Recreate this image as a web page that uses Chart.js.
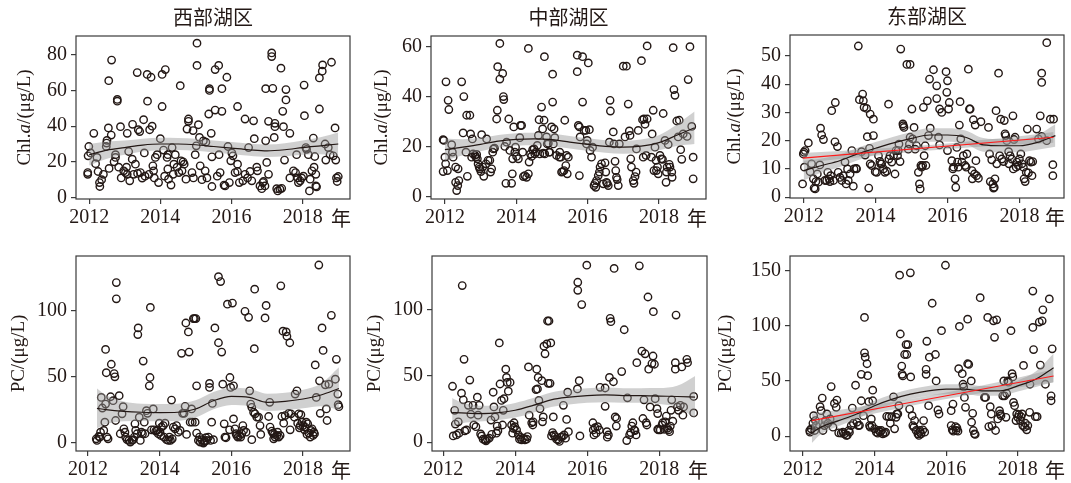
<!DOCTYPE html>
<html>
<head>
<meta charset="utf-8">
<script src="https://cdn.jsdelivr.net/npm/chart.js@4/dist/chart.umd.min.js"></script>
<style>
  html, body { margin: 0; padding: 0; background: #ffffff; }
  #wrap { position: relative; width: 1071px; height: 483px; overflow: hidden; background: #ffffff; }
  #wrap canvas { position: absolute; }
</style>
</head>
<body>
<div id="wrap">
  <canvas id="p1" width="357" height="240" style="left:0px;top:0px"></canvas>
  <canvas id="p2" width="357" height="240" style="left:357px;top:0px"></canvas>
  <canvas id="p3" width="357" height="240" style="left:714px;top:0px"></canvas>
  <canvas id="p4" width="357" height="243" style="left:0px;top:240px"></canvas>
  <canvas id="p5" width="357" height="243" style="left:357px;top:240px"></canvas>
  <canvas id="p6" width="357" height="243" style="left:714px;top:240px"></canvas>
</div>
<script>
// ---- region titles and axis ticks ----
const regionNames = ['西部湖区', '中部湖区', '东部湖区'];
const yearTicks = [2012, 2014, 2016, 2018];
const chlTicksWest = [0, 20, 40, 60, 80];
const chlTicksMid = [0, 20, 40, 60];
const chlTicksEast = [0, 10, 20, 30, 40, 50];
const pcTicksWestMid = [0, 50, 100];
const pcTicksEast = [0, 50, 100, 150];

// ---- observations: [decimal year, concentration] ----
const westChl = [[2011.99,28.6],[2011.97,23.4],[2011.96,14],[2011.96,13],[2012.04,25],[2012.13,36],[2012.18,19],[2012.22,22.5],[2012.25,14.6],[2012.29,8.4],[2012.30,6.2],[2012.35,10],[2012.40,13],[2012.48,28.6],[2012.50,32],[2012.49,30.5],[2012.54,39],[2012.55,65.5],[2012.63,77],[2012.62,35],[2012.56,16.3],[2012.70,20],[2012.74,24],[2012.74,22.5],[2012.79,55],[2012.79,54],[2012.83,17],[2012.88,39.7],[2012.90,11],[2012.97,15],[2013.02,14],[2013.05,17],[2013.07,36],[2013.07,13],[2013.11,25.8],[2013.14,9.4],[2013.21,21.5],[2013.22,41],[2013.25,13],[2013.30,18.7],[2013.35,70],[2013.36,13.5],[2013.38,38],[2013.42,37],[2013.44,14],[2013.49,10.9],[2013.53,43.6],[2013.55,25],[2013.57,12],[2013.63,69],[2013.64,54],[2013.68,13],[2013.70,38],[2013.74,67.4],[2013.77,40],[2013.79,17.8],[2013.81,15],[2013.83,11],[2013.86,22.5],[2013.91,24],[2013.95,8.4],[2014.00,33],[2014.05,69],[2014.05,51],[2014.09,26.6],[2014.12,12],[2014.14,71.7],[2014.19,22.5],[2014.21,24],[2014.21,16],[2014.23,10.3],[2014.30,7],[2014.33,28],[2014.36,13],[2014.38,18.7],[2014.42,24],[2014.47,17],[2014.52,14],[2014.56,62.7],[2014.58,20.6],[2014.61,15],[2014.64,20],[2014.67,18.7],[2014.72,10.3],[2014.75,38.4],[2014.79,44],[2014.79,42.7],[2014.89,14],[2014.92,37.5],[2014.93,11],[2014.98,24],[2015.01,29],[2015.03,86.5],[2015.03,74],[2015.07,40.8],[2015.10,33.7],[2015.12,17.8],[2015.17,10],[2015.21,31.8],[2015.26,15],[2015.28,31],[2015.31,11],[2015.36,46.8],[2015.38,61],[2015.38,60],[2015.43,36],[2015.45,22.8],[2015.45,6.2],[2015.54,49],[2015.54,71.7],[2015.60,12],[2015.64,74],[2015.65,24],[2015.68,14],[2015.73,61],[2015.73,48.3],[2015.79,7],[2015.82,6.5],[2015.87,67.4],[2015.90,28.6],[2015.94,8.4],[2015.98,20.6],[2016.01,25],[2016.04,23.4],[2016.10,14],[2016.17,51],[2016.17,18.7],[2016.17,14.6],[2016.22,8.4],[2016.32,9.4],[2016.38,44],[2016.38,13],[2016.45,11],[2016.48,28],[2016.52,14.6],[2016.57,9.4],[2016.62,43],[2016.64,33],[2016.71,17],[2016.73,15],[2016.80,6.5],[2016.85,5],[2016.88,8.4],[2016.90,9],[2016.94,6.5],[2016.96,31.8],[2016.96,61],[2016.99,19.7],[2017.04,13],[2017.04,42.7],[2017.13,81],[2017.13,79],[2017.16,61.2],[2017.20,33.7],[2017.22,39.7],[2017.22,41.6],[2017.27,5],[2017.30,3.7],[2017.36,4.7],[2017.41,5.2],[2017.39,72.5],[2017.44,48.3],[2017.46,39.7],[2017.49,21],[2017.53,60.5],[2017.53,54.7],[2017.64,36],[2017.64,11],[2017.74,15],[2017.80,14],[2017.83,24],[2017.86,11],[2017.88,8.4],[2017.93,9.4],[2017.97,11],[2018.02,12],[2018.04,63],[2018.05,45.9],[2018.09,28],[2018.11,27],[2018.16,24],[2018.19,3.7],[2018.21,10.3],[2018.26,15],[2018.30,33.3],[2018.32,17],[2018.34,23],[2018.37,13],[2018.37,6.5],[2018.39,6],[2018.47,67],[2018.47,49.6],[2018.55,70.8],[2018.56,74.3],[2018.63,30],[2018.65,21],[2018.72,28],[2018.77,24],[2018.81,75.8],[2018.86,23.4],[2018.91,39],[2018.93,21],[2018.95,11],[2018.97,9],[2019.00,11.8]];

const midChl = [[2011.95,22.7],[2011.97,22.4],[2011.95,9.9],[2012.00,15.7],[2012.02,13],[2012.03,45.9],[2012.07,10.3],[2012.09,38.5],[2012.11,34.8],[2012.19,20.7],[2012.21,17.7],[2012.23,15.7],[2012.30,11.7],[2012.30,5.6],[2012.33,2.3],[2012.36,4.3],[2012.37,11],[2012.39,6.3],[2012.47,45.9],[2012.51,25.4],[2012.53,40],[2012.59,17.7],[2012.61,32.5],[2012.63,8],[2012.70,32.5],[2012.72,25],[2012.75,15.7],[2012.77,23],[2012.79,17],[2012.84,16.5],[2012.87,15.7],[2012.89,16.8],[2012.91,15],[2012.93,13],[2012.96,11.7],[2012.98,11],[2013.01,9.9],[2013.03,24.7],[2013.06,11.7],[2013.09,8],[2013.15,13],[2013.17,23],[2013.21,14.4],[2013.26,14.4],[2013.28,9.7],[2013.31,11],[2013.34,17.7],[2013.36,19],[2013.39,19.3],[2013.45,31],[2013.47,34.5],[2013.48,52],[2013.54,47],[2013.54,61.3],[2013.62,49.3],[2013.64,40],[2013.65,38.8],[2013.68,20],[2013.71,5.2],[2013.73,21.7],[2013.79,31],[2013.82,18.4],[2013.87,5.2],[2013.89,9],[2013.90,15],[2013.93,27.8],[2013.96,17.7],[2013.98,19.7],[2014.01,16],[2014.06,15],[2014.10,23.5],[2014.12,28.4],[2014.15,28.4],[2014.18,17.7],[2014.20,7.9],[2014.24,8.3],[2014.29,7.6],[2014.34,9],[2014.34,59.3],[2014.36,13.7],[2014.40,17],[2014.43,16],[2014.46,18.7],[2014.50,19],[2014.52,17],[2014.55,17.7],[2014.59,20.4],[2014.62,24.4],[2014.64,30.7],[2014.66,17],[2014.71,35.8],[2014.74,27],[2014.76,17.3],[2014.78,30.5],[2014.79,56],[2014.80,17],[2014.85,23.8],[2014.87,21],[2014.90,21.3],[2014.92,17.7],[2014.94,17.7],[2014.99,27.8],[2015.02,37.8],[2015.02,49],[2015.04,21],[2015.06,27],[2015.08,23.5],[2015.13,16.4],[2015.21,15.7],[2015.22,17.7],[2015.25,15.7],[2015.27,9.7],[2015.30,9.9],[2015.34,10.3],[2015.36,30.5],[2015.39,12.3],[2015.41,16.4],[2015.43,9],[2015.46,15.7],[2015.71,56.6],[2015.71,50],[2015.74,28.4],[2015.77,27.8],[2015.77,8.3],[2015.79,23.8],[2015.86,37.8],[2015.86,56],[2015.90,26.4],[2015.95,26.4],[2015.97,21],[2015.99,22.4],[2016.02,53.5],[2016.05,26.7],[2016.07,18.4],[2016.11,15.7],[2016.14,19.7],[2016.18,4.3],[2016.21,5.2],[2016.23,3.6],[2016.25,6.3],[2016.30,8.3],[2016.33,9.7],[2016.35,11.7],[2016.39,13],[2016.44,5],[2016.49,13.4],[2016.51,9.7],[2016.53,5.6],[2016.55,5.2],[2016.58,4.3],[2016.61,21.7],[2016.63,38.5],[2016.64,34.2],[2016.72,25.8],[2016.74,21],[2016.77,14],[2016.79,10.3],[2016.81,7.6],[2016.83,6.7],[2016.86,4.3],[2016.89,21],[2017.00,52.2],[2017.05,23.8],[2017.09,52.2],[2017.14,37],[2017.17,26.2],[2017.19,24.4],[2017.21,15],[2017.23,11.7],[2017.28,6.3],[2017.30,5.2],[2017.33,7.9],[2017.36,9.7],[2017.37,19],[2017.42,26.4],[2017.51,54.4],[2017.54,30.7],[2017.56,15.7],[2017.58,31],[2017.61,28.9],[2017.64,16.4],[2017.67,60.3],[2017.67,31],[2017.79,15.7],[2017.81,25],[2017.84,34.5],[2017.86,10.3],[2017.89,19.7],[2017.92,14.4],[2017.93,10.3],[2017.96,11.7],[2017.98,9],[2018.03,16.4],[2018.07,15],[2018.10,14.8],[2018.12,33.2],[2018.17,22.4],[2018.20,5.6],[2018.21,9.7],[2018.23,11.7],[2018.26,20.8],[2018.29,12.8],[2018.31,11.7],[2018.36,9.7],[2018.37,7.6],[2018.40,59.6],[2018.42,42.8],[2018.45,40.5],[2018.50,30.2],[2018.54,23.8],[2018.57,30.5],[2018.61,18.7],[2018.64,14.8],[2018.68,25],[2018.79,24],[2018.82,46.8],[2018.87,60],[2018.92,28],[2018.96,15.7],[2018.96,7]];

const eastChl = [[2011.97,4.7],[2011.99,15.3],[2012.01,15.9],[2012.04,16.5],[2012.02,10.6],[2012.13,19.2],[2012.18,9],[2012.22,11.8],[2012.27,6.5],[2012.29,3.2],[2012.32,2.9],[2012.34,5.5],[2012.38,8.2],[2012.41,5.3],[2012.45,11.4],[2012.47,24.4],[2012.50,22],[2012.55,20.4],[2012.59,5.9],[2012.64,5.9],[2012.67,8.8],[2012.71,6.5],[2012.73,5.5],[2012.75,7.6],[2012.78,30.6],[2012.83,5.9],[2012.87,19.6],[2012.88,33.5],[2012.94,17.9],[2012.96,8.8],[2013.01,7],[2013.06,5.9],[2013.10,7.6],[2013.15,12.4],[2013.18,4.7],[2013.22,10],[2013.24,5.9],[2013.29,8.2],[2013.34,16.5],[2013.38,3.9],[2013.40,10],[2013.46,10.2],[2013.47,10],[2013.52,53.5],[2013.55,34.5],[2013.61,16.1],[2013.64,36.5],[2013.66,34.1],[2013.68,31.8],[2013.71,14.9],[2013.75,31.4],[2013.77,21.4],[2013.81,3.2],[2013.83,17.3],[2013.85,11.8],[2013.85,29.4],[2013.89,11.2],[2013.94,27.6],[2013.94,21.8],[2013.99,9],[2014.03,8.8],[2014.08,14.7],[2014.12,12.7],[2014.14,11.8],[2014.17,11.8],[2014.22,10],[2014.26,8.8],[2014.31,9.2],[2014.36,32.9],[2014.37,13.5],[2014.40,14.7],[2014.45,12.4],[2014.50,14.7],[2014.54,8.2],[2014.57,16.5],[2014.61,14.7],[2014.63,16.5],[2014.65,18.8],[2014.68,12.6],[2014.70,52.4],[2014.76,25.9],[2014.77,25.3],[2014.79,24.7],[2014.87,47],[2014.91,17],[2014.94,18.8],[2014.96,21.2],[2014.96,47],[2015.01,31.2],[2015.03,20.6],[2015.07,24.7],[2015.10,17],[2015.14,18.2],[2015.19,8.8],[2015.22,4.7],[2015.24,2.9],[2015.26,11.2],[2015.28,10.6],[2015.31,11.2],[2015.33,31.8],[2015.35,14.7],[2015.38,18.2],[2015.40,11.2],[2015.44,34.1],[2015.47,21.8],[2015.50,41.8],[2015.52,24.4],[2015.61,45.1],[2015.70,39.4],[2015.70,34.9],[2015.75,21.2],[2015.78,18.5],[2015.78,31.2],[2015.84,30],[2015.96,44.4],[2015.98,37.1],[2016.00,41.2],[2016.00,16.5],[2016.03,31.2],[2016.05,33.5],[2016.12,12.9],[2016.15,10],[2016.17,10.6],[2016.21,6.5],[2016.23,3.5],[2016.26,17.6],[2016.28,12.4],[2016.30,10.6],[2016.33,25.5],[2016.35,33.8],[2016.37,20.6],[2016.40,12.4],[2016.44,14.7],[2016.49,11.2],[2016.52,10.6],[2016.54,15.3],[2016.58,45.3],[2016.61,31.2],[2016.63,31.2],[2016.68,9.4],[2016.69,6.5],[2016.72,27.4],[2016.75,8.2],[2016.77,25.5],[2016.79,12.9],[2016.81,7.6],[2016.86,6.7],[2016.93,26.7],[2017.14,24.7],[2017.17,15.3],[2017.19,5.5],[2017.23,13.2],[2017.26,4.7],[2017.28,3.2],[2017.30,3.5],[2017.32,6.5],[2017.35,30.6],[2017.37,11.8],[2017.42,43.9],[2017.45,14.7],[2017.48,27.6],[2017.51,13.5],[2017.56,12.6],[2017.58,27.1],[2017.60,22.4],[2017.62,21.8],[2017.65,20],[2017.70,16.1],[2017.71,11.8],[2017.74,14.7],[2017.79,13.5],[2017.82,28.8],[2017.83,10],[2017.85,20.4],[2017.88,21.2],[2017.91,10.6],[2017.93,12.4],[2017.97,11.2],[2018.00,13.5],[2018.04,15.3],[2018.07,11.8],[2018.11,10.6],[2018.13,6.5],[2018.16,5.5],[2018.19,8.8],[2018.22,24.1],[2018.25,8.6],[2018.28,12.9],[2018.32,12.4],[2018.35,7.6],[2018.37,12.6],[2018.48,24.1],[2018.53,20.6],[2018.58,28.8],[2018.62,43.9],[2018.62,40.6],[2018.62,21.5],[2018.76,54.7],[2018.76,20],[2018.86,27.6],[2018.95,27.6],[2018.93,11.5],[2018.93,7.6]];

const westPC = [[2012.23,3.2],[2012.25,2],[2012.30,5],[2012.33,4.5],[2012.35,8.2],[2012.37,34.4],[2012.40,26.4],[2012.44,9.5],[2012.47,15.7],[2012.49,70.6],[2012.49,29.4],[2012.51,53],[2012.53,4.5],[2012.56,3.2],[2012.63,34.9],[2012.65,59.4],[2012.70,31.9],[2012.73,52.4],[2012.75,49.9],[2012.77,17],[2012.79,121],[2012.79,108.7],[2012.87,35.7],[2012.90,7],[2012.95,22],[2012.98,27.4],[2013.00,10.7],[2013.03,8.2],[2013.05,4.5],[2013.09,2.5],[2013.14,2],[2013.18,0.7],[2013.23,2],[2013.26,2.5],[2013.29,4.5],[2013.31,14.5],[2013.33,9.5],[2013.37,7],[2013.39,81.8],[2013.40,86.8],[2013.43,19.5],[2013.46,2],[2013.49,8.2],[2013.52,7],[2013.54,61.8],[2013.57,15.7],[2013.59,7],[2013.63,24.4],[2013.66,22.4],[2013.71,43.1],[2013.73,49.4],[2013.74,102.2],[2013.77,10],[2013.82,25.7],[2013.84,10],[2013.89,9],[2013.93,9.5],[2013.96,7],[2013.99,15],[2014.01,8.2],[2014.03,5.7],[2014.05,12],[2014.10,13.2],[2014.12,4.5],[2014.15,15],[2014.19,2.5],[2014.24,2],[2014.27,4.5],[2014.30,2],[2014.33,32.4],[2014.35,3.2],[2014.38,12],[2014.43,10.7],[2014.47,13.2],[2014.52,8.2],[2014.57,9.5],[2014.61,67.6],[2014.64,22.4],[2014.68,22.4],[2014.71,27.7],[2014.73,90.5],[2014.75,6.5],[2014.80,83.8],[2014.82,68.6],[2014.85,15.7],[2014.89,25.7],[2014.91,15.7],[2014.94,93.8],[2014.97,93.8],[2015.01,93.8],[2014.99,15.7],[2015.03,43.1],[2015.03,7.5],[2015.08,2],[2015.11,4.5],[2015.13,0.7],[2015.17,2.5],[2015.22,0],[2015.24,1],[2015.26,1.5],[2015.29,4],[2015.31,2],[2015.36,4.5],[2015.39,44.9],[2015.39,41.9],[2015.42,2],[2015.45,15.7],[2015.47,29.9],[2015.50,2.5],[2015.54,86.8],[2015.64,125.4],[2015.64,75.6],[2015.70,121.7],[2015.73,68.6],[2015.76,44.4],[2015.80,14.5],[2015.82,4.5],[2015.85,4],[2015.89,104.7],[2015.95,10],[2015.96,49.4],[2015.98,41.9],[2016.03,105.5],[2016.06,18.2],[2016.06,43.1],[2016.10,10.7],[2016.13,7],[2016.15,5.7],[2016.18,4.5],[2016.23,5.7],[2016.26,4.5],[2016.29,7],[2016.32,13.2],[2016.34,9.5],[2016.38,99.3],[2016.41,8.2],[2016.48,94.8],[2016.51,39.4],[2016.54,29.4],[2016.57,2.5],[2016.57,26.9],[2016.62,23.2],[2016.64,71.1],[2016.65,116],[2016.66,22],[2016.71,19.5],[2016.76,19.5],[2016.80,13.2],[2016.82,6.5],[2016.94,94.3],[2016.97,103.7],[2017.04,20],[2017.07,30.7],[2017.08,12],[2017.13,9],[2017.16,7.5],[2017.18,3.2],[2017.20,6.5],[2017.22,4.5],[2017.27,5.7],[2017.29,8.2],[2017.32,4.5],[2017.36,5.7],[2017.38,118.5],[2017.41,20],[2017.44,84.3],[2017.46,15],[2017.50,20.7],[2017.53,83.8],[2017.55,80.5],[2017.60,22.4],[2017.63,75.6],[2017.64,10],[2017.66,22],[2017.76,19.5],[2017.78,36.9],[2017.83,39.4],[2017.85,15],[2017.88,22],[2017.90,11.5],[2017.92,13.2],[2017.94,21.4],[2017.97,15.7],[2018.00,13.2],[2018.04,10],[2018.06,12],[2018.09,15.7],[2018.11,6.5],[2018.13,14.5],[2018.16,7.5],[2018.20,4.5],[2018.22,9.5],[2018.25,10.7],[2018.28,5.7],[2018.30,8.2],[2018.32,7],[2018.34,58.9],[2018.37,34.4],[2018.44,134.2],[2018.46,46.9],[2018.48,22.4],[2018.53,86.8],[2018.56,69.8],[2018.62,43.9],[2018.65,25.7],[2018.67,17],[2018.72,44.4],[2018.79,96.3],[2018.90,48.1],[2018.93,63.1],[2018.97,36.9],[2018.98,28.9],[2019.00,27.4]];

const midPC = [[2012.26,42.1],[2012.28,4.7],[2012.32,24],[2012.34,13.6],[2012.37,5.4],[2012.42,15.3],[2012.44,6.7],[2012.51,36.9],[2012.53,118],[2012.56,31.9],[2012.58,62.4],[2012.60,8.4],[2012.65,9.2],[2012.70,27.7],[2012.74,46.8],[2012.77,21],[2012.83,27.7],[2012.85,12.9],[2012.91,11.6],[2012.95,33.9],[2012.97,20.3],[2013.00,27.7],[2013.04,6.2],[2013.07,4.7],[2013.11,2.2],[2013.16,1.7],[2013.19,1],[2013.23,2.2],[2013.28,3],[2013.33,16.6],[2013.35,5.9],[2013.39,37.6],[2013.41,26.5],[2013.44,19],[2013.48,6.7],[2013.50,12.1],[2013.52,8.4],[2013.56,74.8],[2013.58,43.8],[2013.62,31.4],[2013.65,12.9],[2013.67,24],[2013.69,32.7],[2013.74,55],[2013.76,48.8],[2013.78,45],[2013.81,38.4],[2013.86,45],[2013.90,12.9],[2013.93,6.7],[2013.95,10.4],[2013.97,14.6],[2013.99,11.6],[2014.04,9.2],[2014.09,5.4],[2014.12,2.2],[2014.15,3.5],[2014.18,1.7],[2014.23,3],[2014.27,1.7],[2014.32,2.2],[2014.34,4.2],[2014.37,56.7],[2014.39,20.3],[2014.46,14.6],[2014.49,12.9],[2014.50,15.3],[2014.58,39.6],[2014.60,55],[2014.62,40.1],[2014.64,48.8],[2014.66,31.4],[2014.69,25.2],[2014.74,46.3],[2014.76,15.3],[2014.78,19],[2014.80,72.3],[2014.83,66.6],[2014.88,74],[2014.90,91.3],[2014.92,44.3],[2014.94,91.3],[2014.97,44.3],[2014.99,74.8],[2015.01,4.7],[2015.04,7.2],[2015.06,19],[2015.08,5.4],[2015.11,4.2],[2015.15,2.2],[2015.20,1.7],[2015.23,0.5],[2015.27,3.7],[2015.31,4.2],[2015.34,27.7],[2015.36,5.4],[2015.40,3],[2015.43,17.1],[2015.46,37.6],[2015.48,7.9],[2015.73,40.1],[2015.74,120.5],[2015.74,114.4],[2015.78,46.3],[2015.80,4.7],[2015.85,103.7],[2015.99,133.4],[2016.16,14.6],[2016.17,9.2],[2016.19,5.4],[2016.22,10.9],[2016.25,6.7],[2016.29,11.6],[2016.34,9.2],[2016.36,41.3],[2016.50,40.8],[2016.50,27],[2016.55,7.9],[2016.56,3.7],[2016.59,5.4],[2016.62,48.8],[2016.64,93.3],[2016.66,90.8],[2016.73,45.5],[2016.75,130.9],[2016.78,19],[2016.81,12.1],[2016.82,17.8],[2016.96,53.2],[2017.03,84.7],[2017.10,1.2],[2017.12,33.4],[2017.18,5.4],[2017.21,7.2],[2017.24,12.1],[2017.27,14.6],[2017.31,9.2],[2017.33,8.7],[2017.36,5.4],[2017.38,59.9],[2017.45,132.9],[2017.52,68.6],[2017.55,17.8],[2017.58,31.9],[2017.61,66.6],[2017.64,14.6],[2017.66,12.9],[2017.69,109.4],[2017.71,55],[2017.75,26.5],[2017.80,59.2],[2017.83,64.9],[2017.84,98.3],[2017.87,58.7],[2017.89,32.7],[2017.94,25.2],[2017.96,21.5],[2017.96,9.7],[2017.98,9.2],[2018.03,9.2],[2018.08,12.9],[2018.10,14.6],[2018.14,9.7],[2018.17,15.3],[2018.20,19.6],[2018.23,10.4],[2018.26,9.2],[2018.29,7.9],[2018.31,12.1],[2018.33,24],[2018.35,31.9],[2018.38,15.8],[2018.45,59.9],[2018.45,55],[2018.47,95.8],[2018.51,26.5],[2018.54,24],[2018.59,27.7],[2018.63,56.7],[2018.66,20.3],[2018.68,26.5],[2018.77,62.4],[2018.79,59.9],[2018.96,34.4],[2018.96,22]];

const eastPC = [[2012.19,5.1],[2012.20,3.6],[2012.23,6.6],[2012.28,11.7],[2012.30,18.6],[2012.33,5.1],[2012.35,14.1],[2012.37,9.6],[2012.48,26.7],[2012.51,23.1],[2012.54,34.5],[2012.56,5.1],[2012.60,9.6],[2012.63,14.1],[2012.67,20.1],[2012.70,11.7],[2012.76,15.6],[2012.79,45],[2012.84,8.1],[2012.88,29.7],[2012.93,26.1],[2012.95,32.7],[2013.00,3],[2013.07,2.7],[2013.12,3.6],[2013.16,2.1],[2013.21,0.6],[2013.24,0.8],[2013.28,5.1],[2013.30,3.6],[2013.35,9.6],[2013.38,25.5],[2013.41,11.7],[2013.47,46.2],[2013.51,12.6],[2013.55,9.6],[2013.58,9.8],[2013.63,56.1],[2013.63,32.1],[2013.69,18.6],[2013.72,107.7],[2013.72,75.6],[2013.74,71.7],[2013.79,65.7],[2013.81,54.9],[2013.84,31.2],[2013.86,9.6],[2013.88,8.1],[2013.91,15.6],[2013.93,9.6],[2013.95,41.7],[2013.95,32.1],[2014.00,6.6],[2014.05,3.6],[2014.09,2.7],[2014.12,5.1],[2014.16,3.6],[2014.19,5.1],[2014.23,2.1],[2014.28,2.7],[2014.31,3.6],[2014.34,18],[2014.40,17.7],[2014.44,11.7],[2014.48,17.7],[2014.53,35.7],[2014.56,6.6],[2014.60,17.1],[2014.62,20.1],[2014.65,20.1],[2014.68,27.6],[2014.70,146.1],[2014.72,92.7],[2014.76,63.6],[2014.77,56.1],[2014.79,54.6],[2014.84,74.1],[2014.88,83.1],[2014.90,74.1],[2014.93,83.1],[2014.98,24.6],[2015.00,148.2],[2015.01,53.7],[2015.05,18.6],[2015.07,9.6],[2015.10,8.1],[2015.12,14.1],[2015.16,5.1],[2015.21,2.1],[2015.24,0.6],[2015.26,3.6],[2015.27,5.1],[2015.30,2.1],[2015.35,5.7],[2015.37,14.1],[2015.40,3.6],[2015.44,60.6],[2015.44,56.1],[2015.46,86.1],[2015.51,27.6],[2015.53,71.7],[2015.61,120.6],[2015.70,74.1],[2015.72,50.1],[2015.77,23.7],[2015.80,20.1],[2015.87,95.7],[2015.98,155.1],[2016.14,23.1],[2016.14,9.6],[2016.17,5.7],[2016.19,29.1],[2016.20,4.5],[2016.26,8.7],[2016.28,5.1],[2016.30,7.5],[2016.33,4.5],[2016.35,61.2],[2016.37,99.6],[2016.45,56.7],[2016.47,47.1],[2016.49,44.7],[2016.51,35.1],[2016.54,26.1],[2016.60,106.2],[2016.60,65.7],[2016.63,65.1],[2016.70,50.1],[2016.71,12.6],[2016.74,20.7],[2016.76,5.1],[2016.79,2.1],[2016.81,1.5],[2016.95,125.7],[2017.07,35.1],[2017.10,35.1],[2017.16,107.7],[2017.19,8.7],[2017.23,26.7],[2017.26,20.1],[2017.28,9.6],[2017.32,104.7],[2017.35,89.7],[2017.38,5.1],[2017.41,105.6],[2017.44,15.6],[2017.49,23.1],[2017.51,20.1],[2017.53,18.6],[2017.58,36.6],[2017.61,50.1],[2017.63,36.6],[2017.67,17.1],[2017.69,38.7],[2017.72,50.1],[2017.74,49],[2017.81,95.7],[2017.84,56.7],[2017.86,53.7],[2017.88,30.6],[2017.91,27.6],[2017.95,14.1],[2017.97,20.1],[2018.00,17.1],[2018.03,19.5],[2018.07,14.1],[2018.09,17.7],[2018.12,20.1],[2018.14,9.6],[2018.16,64.2],[2018.19,8.1],[2018.21,11.7],[2018.25,5.7],[2018.28,9.6],[2018.33,21.6],[2018.34,47.1],[2018.42,131.7],[2018.42,98.7],[2018.44,78.6],[2018.49,17.7],[2018.54,17.7],[2018.60,103.5],[2018.63,64.5],[2018.68,104.7],[2018.70,114.6],[2018.77,47.1],[2018.88,124.5],[2018.93,36.6],[2018.93,32.1],[2018.96,79.2]];

// ---- smoothed trends (loess) with 95% bands ----
const loessYearsChl = [2012,2012.5,2013,2013.5,2014,2014.5,2015,2015.5,2016,2016.5,2017,2017.5,2018,2018.5,2019];
const loessYearsPC = [2012.25,2012.5,2013,2013.5,2014,2014.5,2015,2015.5,2016,2016.5,2017,2017.5,2018,2018.5,2019];

const westChlFit = [24,26.6,28,29.4,30,30,29.6,28.6,27.7,26.8,26.2,26.8,28,29,30];
const westChlHi  = [30,31.4,32,33,33.5,33.4,33,32,31.1,30.2,29.7,30.4,32,33.8,36.5];
const westChlLo  = [18,21.8,24,25.8,26.5,26.6,26.2,25.2,24.3,23.4,22.7,23.2,24,24.2,23.5];

const midChlFit = [18.7,19.7,20.8,22.1,22.8,23,22.7,21.7,20.8,20,19.7,20.1,21.5,24.5,27.5];
const midChlHi  = [23.2,22.9,23.5,24.6,25.3,25.5,25.2,24.2,23.3,22.5,22.3,22.8,24.5,28.8,34];
const midChlLo  = [14.2,16.5,18.1,19.6,20.3,20.5,20.2,19.2,18.3,17.5,17.1,17.4,18.5,20.2,21];

const eastChlFit = [9.4,11.2,12.9,15.3,17.3,19.2,20.8,22,22,21.2,18.5,18.2,18.2,19.4,21.8];
const eastChlHi  = [12.9,13.7,15.1,17.5,19.5,21.4,23.1,24.4,24.4,23.6,20.9,20.5,20.5,22,25.8];
const eastChlLo  = [5.9,8.7,10.7,13.1,15.1,17,18.5,19.6,19.6,18.8,16.1,15.9,15.9,16.8,17.8];

const westPCFit = [26.2,25.2,23.9,23.2,22.9,23.2,25.7,31.9,35.2,34.4,30.7,31.4,33.2,36.2,41.1];
const westPCHi  = [41.2,36.2,31.4,29.7,29.4,29.7,32.2,38.4,41.7,40.9,37.2,37.9,40.2,44.7,57.1];
const westPCLo  = [11.2,14.2,16.4,16.7,16.4,16.7,19.2,25.4,28.7,27.9,24.2,24.9,26.2,27.7,25.1];

const midPCFit = [22.3,22,21.5,22,24,27.7,31.9,33.9,35.1,35.6,35.1,35.1,34.7,34.4,33.9];
const midPCHi  = [33.3,30,27.5,27.5,29.5,33.2,37.4,39.4,40.6,41.1,40.6,40.6,40.7,42.4,49.9];
const midPCLo  = [11.3,14,15.5,16.5,18.5,22.2,26.4,28.4,29.6,30.1,29.6,29.6,28.7,26.4,17.9];

const eastPCFit = [2.7,8.1,14.1,20.1,27.6,33.6,38.1,41.1,42.6,42.6,41.1,41.1,45.6,51.6,62.1];
const eastPCHi  = [11.7,14.6,19.1,24.6,32.1,38.1,42.6,45.6,47.1,47.1,45.6,45.6,50.6,58.6,75.1];
const eastPCLo  = [-6.3,1.6,9.1,15.6,23.1,29.1,33.6,36.6,38.1,38.1,36.6,36.6,40.6,44.6,49.1];

// ---- linear trends (east region) with 95% bands ----
const eastChlLineYears = [2011.97, 2018.95];
const eastChlLine = [13.8, 21.2];
const eastChlLineBandYears = [2011.97,2013,2014,2015,2016,2017,2018,2018.95];
const eastChlLineHi = [15.6,16.3,17.1,18,19,20.3,21.6,23.1];
const eastChlLineLo = [12,13.5,14.7,16,17,17.9,18.6,19.3];

const eastPCLineYears = [2012.25, 2019];
const eastPCLine = [14.1, 54.6];
const eastPCLineBandYears = [2012.25,2013,2014,2015,2016,2017,2018,2019];
const eastPCLineHi = [20.6,23.8,28.6,33.8,39.6,46,53,60.6];
const eastPCLineLo = [7.6,13.4,20.6,27.4,33.6,39.2,44.2,48.6];

// ---- drawing ----
const INK = '#231815';
const SERIF = "'Liberation Serif', 'Times New Roman', 'DejaVu Serif', serif";
const CJK = "'Noto Sans CJK SC', 'Noto Sans CJK JP', sans-serif";
const BAND = 'rgba(150,150,150,0.45)';

const pairs = arr => arr.map(p => ({ x: p[0], y: p[1] }));
const zip = (xs, ys) => xs.map((x, i) => ({ x, y: ys[i] }));

const chlTitle = [{ t: 'Chl.', it: false }, { t: 'a', it: true }, { t: '/(μg/L)', it: false }];
const pcTitle = [{ t: 'PC/(μg/L)', it: false }];

const panels = [
  { id: 'p1', w: 357, h: 240, area: { l: 76, r: 350, t: 36, b: 199 }, x: [2011.63, 2019.33], y: [-0.8, 90.5], yTicks: chlTicksWest,
    title: regionNames[0], yTitle: chlTitle, yTitleX: 25, pts: westChl,
    loess: [loessYearsChl, westChlFit, westChlLo, westChlHi] },
  { id: 'p2', w: 357, h: 240, area: { l: 74, r: 349, t: 36, b: 199 }, x: [2011.61, 2019.32], y: [-1.1, 64.3], yTicks: chlTicksMid,
    title: regionNames[1], yTitle: chlTitle, yTitleX: 25, pts: midChl,
    loess: [loessYearsChl, midChlFit, midChlLo, midChlHi] },
  { id: 'p3', w: 357, h: 240, area: { l: 76, r: 350, t: 35, b: 198 }, x: [2011.62, 2019.24], y: [-0.3, 57.4], yTicks: chlTicksEast,
    title: regionNames[2], yTitle: chlTitle, yTitleX: 21, pts: eastChl,
    loess: [loessYearsChl, eastChlFit, eastChlLo, eastChlHi],
    linear: [eastChlLineYears, eastChlLine, eastChlLineBandYears, eastChlLineLo, eastChlLineHi] },
  { id: 'p4', w: 357, h: 243, area: { l: 76, r: 350, t: 14, b: 211 }, x: [2011.665, 2019.31], y: [-6, 141], yTicks: pcTicksWestMid,
    title: null, yTitle: pcTitle, yTitleX: 19, pts: westPC,
    loess: [loessYearsPC, westPCFit, westPCLo, westPCHi] },
  { id: 'p5', w: 357, h: 243, area: { l: 75, r: 350, t: 14, b: 211 }, x: [2011.69, 2019.33], y: [-6.7, 140.3], yTicks: pcTicksWestMid,
    title: null, yTitle: pcTitle, yTitleX: 18, pts: midPC,
    loess: [loessYearsPC, midPCFit, midPCLo, midPCHi] },
  { id: 'p6', w: 357, h: 243, area: { l: 76, r: 350, t: 14, b: 211 }, x: [2011.64, 2019.29], y: [-13.5, 163.5], yTicks: pcTicksEast,
    title: null, yTitle: pcTitle, yTitleX: 12, pts: eastPC,
    loess: [loessYearsPC, eastPCFit, eastPCLo, eastPCHi],
    linear: [eastPCLineYears, eastPCLine, eastPCLineBandYears, eastPCLineLo, eastPCLineHi] }
];

// frame, panel heading, rotated axis title and the 年 unit after the year ticks
const decorations = {
  id: 'decorations',
  afterDraw(chart, args, opts) {
    const { ctx, chartArea: a } = chart;
    ctx.save();
    ctx.strokeStyle = '#3a3a3a';
    ctx.lineWidth = 1.2;
    ctx.strokeRect(a.left, a.top, a.right - a.left, a.bottom - a.top);

    ctx.fillStyle = INK;
    if (opts.title) {
      ctx.font = '20px ' + CJK;
      ctx.textAlign = 'center';
      ctx.textBaseline = 'middle';
      ctx.fillText(opts.title, (a.left + a.right) / 2, a.top - 19);
    }

    // unit label for the time axis
    ctx.font = '20px ' + CJK;
    ctx.textAlign = 'center';
    ctx.textBaseline = 'middle';
    ctx.fillText('年', a.right - 9, a.bottom + 19);

    // rotated y title with italic part
    const size = 19;
    const fontOf = p => (p.it ? 'italic ' : '') + size + 'px ' + SERIF;
    let total = 0;
    const widths = opts.yTitle.map(p => { ctx.font = fontOf(p); const w = ctx.measureText(p.t).width; total += w; return w; });
    ctx.translate(opts.yTitleX, (a.top + a.bottom) / 2);
    ctx.rotate(-Math.PI / 2);
    ctx.textAlign = 'left';
    ctx.textBaseline = 'middle';
    let x = -total / 2;
    opts.yTitle.forEach((p, i) => { ctx.font = fontOf(p); ctx.fillText(p.t, x, 0); x += widths[i]; });
    ctx.restore();
  }
};

function lineSet(data, color, width, order) {
  return { data, showLine: true, borderColor: color, borderWidth: width, pointRadius: 0, pointHoverRadius: 0,
           fill: false, cubicInterpolationMode: 'monotone', order };
}
function bandSet(data, fillTarget, order) {
  return { data, showLine: true, borderWidth: 0, borderColor: 'rgba(0,0,0,0)', pointRadius: 0, pointHoverRadius: 0,
           backgroundColor: BAND, fill: fillTarget, cubicInterpolationMode: 'monotone', order };
}

panels.forEach(p => {
  const [fy, fit, lo, hi] = p.loess;
  const datasets = [
    { data: pairs(p.pts), showLine: false, pointRadius: 3.7, pointHoverRadius: 3.7, pointBorderWidth: 1.4,
      pointBorderColor: INK, pointBackgroundColor: 'rgba(0,0,0,0)', order: 5 },
    bandSet(zip(fy, hi), '+1', 3),
    bandSet(zip(fy, lo), false, 3),
    lineSet(zip(fy, fit), INK, 1.2, 1)
  ];
  if (p.linear) {
    const [ly, lv, by, blo, bhi] = p.linear;
    datasets.push(bandSet(zip(by, bhi), '+1', 3));
    datasets.push(bandSet(zip(by, blo), false, 3));
    datasets.push(lineSet(zip(ly, lv), '#ff1a1a', 1.2, 0));
  }

  new Chart(document.getElementById(p.id), {
    type: 'scatter',
    data: { datasets },
    plugins: [decorations],
    options: {
      responsive: false,
      animation: false,
      devicePixelRatio: 1,
      events: [],
      layout: { padding: { left: 0, top: p.area.t, right: p.w - p.area.r, bottom: 0 } },
      plugins: {
        legend: { display: false },
        tooltip: { enabled: false },
        decorations: { title: p.title, yTitle: p.yTitle, yTitleX: p.yTitleX }
      },
      scales: {
        x: {
          type: 'linear', min: p.x[0], max: p.x[1],
          afterBuildTicks: s => { s.ticks = yearTicks.map(v => ({ value: v })); },
          afterFit: s => { s.height = p.h - p.area.b; },
          border: { display: false },
          grid: { display: true, drawOnChartArea: false, drawTicks: true, tickLength: 5, color: '#3a3a3a', lineWidth: 1.2 },
          ticks: { color: INK, padding: 2, maxRotation: 0, autoSkip: false,
                   font: { family: SERIF, size: 20 }, callback: v => String(v) }
        },
        y: {
          type: 'linear', min: p.y[0], max: p.y[1],
          afterBuildTicks: s => { s.ticks = p.yTicks.map(v => ({ value: v })); },
          afterFit: s => { s.width = p.area.l; },
          border: { display: false },
          grid: { display: true, drawOnChartArea: false, drawTicks: true, tickLength: 5, color: '#3a3a3a', lineWidth: 1.2 },
          ticks: { color: INK, padding: 4, autoSkip: false,
                   font: { family: SERIF, size: 20 }, callback: v => String(v) }
        }
      }
    }
  });
});
</script>
</body>
</html>
